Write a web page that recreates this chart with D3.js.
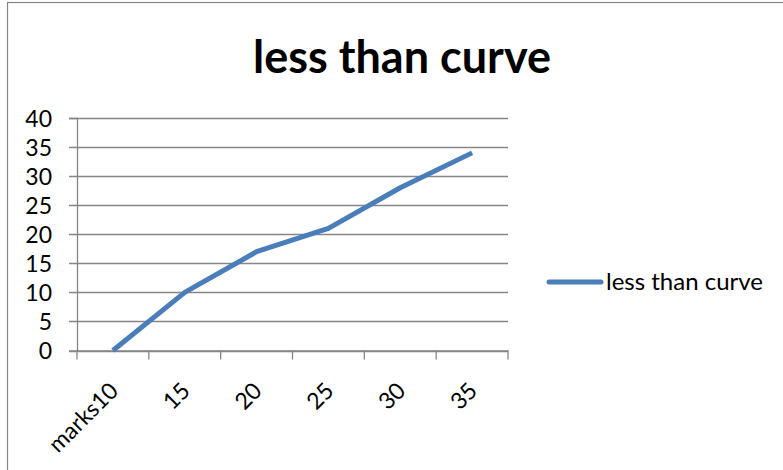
<!DOCTYPE html>
<html lang="en">

<head>
    <meta charset="UTF-8">
    <title>less than curve</title>
    <style>
        body { margin: 0; background: #fff; }
        text { font-family: Lato, "Open Sans", sans-serif; fill: #000; }
    </style>
</head>

<body>
    <svg width="783" height="470" id="svg"></svg>
    <script src="https://d3js.org/d3.v7.min.js"></script>
    <script>
        // data
        const categories = ["marks10", "15", "20", "25", "30", "35"]
        const values = [0, 10, 17, 21, 28, 34]
        const yTicks = [0, 5, 10, 15, 20, 25, 30, 35, 40]
        const seriesName = "less than curve"
        const title = "less than curve"

        const svg = d3.select("svg#svg")
        const gridColor = "#868686"
        const lineColor = "#4a7ebb"

        // chart frame
        svg.append("rect")
            .attr("x", 7.5).attr("y", 2.5)
            .attr("width", 800).attr("height", 500)
            .attr("fill", "none").attr("stroke", gridColor).attr("stroke-width", 1.2)

        const plot = { left: 77, right: 508, top: 118, bottom: 350.5 }

        const xScale = d3.scaleBand().domain(categories).range([plot.left, plot.right])
        const yScale = d3.scaleLinear().domain([0, 40]).range([plot.bottom, plot.top])

        // horizontal gridlines
        svg.append("g")
            .selectAll("line")
            .data(yTicks)
            .join("line")
            .attr("x1", plot.left - 8).attr("x2", plot.right)
            .attr("y1", d => Math.round(yScale(d)) + 0.5)
            .attr("y2", d => Math.round(yScale(d)) + 0.5)
            .attr("stroke", gridColor).attr("stroke-width", 1.3)

        // y axis
        const yAxis = d3.axisLeft(yScale).tickValues(yTicks).tickSize(8).tickPadding(17)
        const gy = svg.append("g").attr("transform", `translate(${plot.left},0)`).call(yAxis)
        gy.select(".domain").attr("stroke", gridColor).attr("stroke-width", 1.3)
        gy.selectAll(".tick line").attr("stroke", "none")
        gy.selectAll(".tick text").attr("font-size", 23).attr("font-family", "Lato").attr("fill", "#000")
            .attr("dy", "0.36em")

        // x axis
        const xAxis = d3.axisBottom(xScale).tickSize(0).tickFormat(d => d)
        const gx = svg.append("g").attr("transform", `translate(0,${plot.bottom})`).call(xAxis)
        gx.select(".domain").attr("stroke", gridColor).attr("stroke-width", 1.3)
        gx.selectAll(".tick text")
            .attr("font-size", 23).attr("font-family", "Lato").attr("fill", "#000")
            .attr("text-anchor", "end")
            .attr("transform", "translate(1,36) rotate(-45)")
            .attr("y", 0).attr("dy", "0.35em")
        // tick marks sit on band edges
        const edges = categories.map(c => xScale(c)).concat([xScale.range()[1]])
        gx.selectAll(".edge")
            .data(edges)
            .join("line")
            .attr("class", "edge")
            .attr("x1", d => d).attr("x2", d => d)
            .attr("y1", 0).attr("y2", 9)
            .attr("stroke", gridColor).attr("stroke-width", 1.3)

        // series line
        const line = d3.line()
            .x((d, i) => xScale(categories[i]) + xScale.bandwidth() / 2)
            .y(d => yScale(d))
        svg.append("path")
            .datum(values)
            .attr("d", line)
            .attr("fill", "none")
            .attr("stroke", lineColor)
            .attr("stroke-width", 5)
            .attr("stroke-linejoin", "round")

        // title
        svg.append("text")
            .attr("x", 402).attr("y", 73)
            .attr("text-anchor", "middle")
            .attr("font-size", 45).attr("font-weight", "bold")
            .text(title)

        // legend
        svg.append("line")
            .attr("x1", 549).attr("x2", 601)
            .attr("y1", 282).attr("y2", 282)
            .attr("stroke", lineColor).attr("stroke-width", 5).attr("stroke-linecap", "round")
        svg.append("text")
            .attr("x", 606).attr("y", 290)
            .attr("font-size", 24)
            .text(seriesName)
    </script>
</body>

</html>
